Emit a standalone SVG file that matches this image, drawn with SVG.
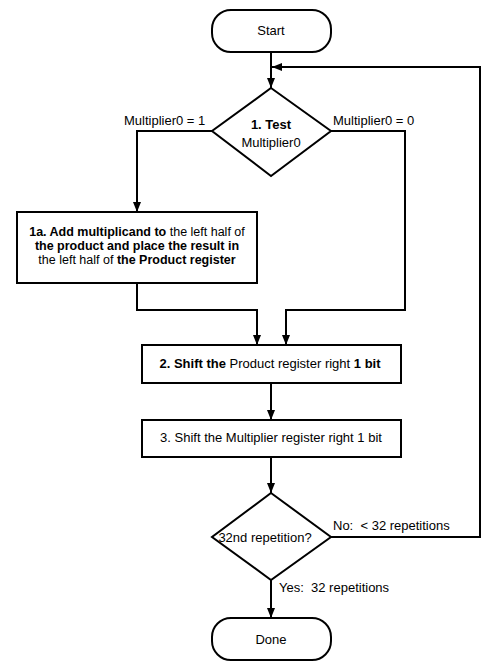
<svg xmlns="http://www.w3.org/2000/svg" width="498" height="661" viewBox="0 0 498 661">
<style>
.s{fill:#fff;stroke:#000;stroke-width:2}
.c{fill:none;stroke:#000;stroke-width:2}
text{font-family:"Liberation Sans",Arial,sans-serif;font-size:13px;fill:#000}
.m{text-anchor:middle}
.b{font-weight:bold}
.p{white-space:pre}
.t{font-size:12.5px}
</style>
<defs>
<marker id="ah" markerUnits="userSpaceOnUse" markerWidth="10" markerHeight="10" viewBox="0 0 10 10" refX="10" refY="5" orient="auto">
<path d="M0,1 L10,5 L0,9 Z" fill="#000"/>
</marker>
</defs>
<g id="connectors">
<path class="c" d="M271,52 V88" marker-end="url(#ah)"/>
<path class="c" d="M212,131 H137 V212" marker-end="url(#ah)"/>
<path class="c" d="M331,131 H405 V310 H286 V345" marker-end="url(#ah)"/>
<path class="c" d="M137,283 V310 H257 V345" marker-end="url(#ah)"/>
<path class="c" d="M271,383 V420" marker-end="url(#ah)"/>
<path class="c" d="M271,457 V493" marker-end="url(#ah)"/>
<path class="c" d="M271,580 V618" marker-end="url(#ah)"/>
<path class="c" d="M331,537 H480 V67 H272" marker-end="url(#ah)"/>
<text x="124" y="125">Multiplier0 = 1</text>
<text x="333" y="125">Multiplier0 = 0</text>
<text class="p" x="333" y="530" xml:space="preserve">No:  &lt; 32 repetitions</text>
<text class="p" x="279" y="592" xml:space="preserve">Yes:  32 repetitions</text>
</g>
<g id="start">
<rect class="s" x="212" y="10" width="119" height="42" rx="19"/>
<text class="m" x="271" y="35">Start</text>
</g>
<g id="test">
<path class="s" d="M271,88 L331,131 L271,176 L212,131 Z"/>
<text class="m b" x="271" y="129">1. Test</text>
<text class="m" x="271" y="147">Multiplier0</text>
</g>
<g id="add">
<rect class="s" x="17" y="212" width="240" height="71"/>
<text class="m t" x="137" y="236"><tspan class="b">1a. Add multiplicand to</tspan> the left half of</text>
<text class="m b t" x="137" y="250">the product and place the result in</text>
<text class="m t" x="137" y="264">the left half of <tspan class="b">the Product register</tspan></text>
</g>
<g id="shift-product">
<rect class="s" x="142" y="345" width="259" height="38"/>
<text class="m" x="270" y="368"><tspan class="b">2. Shift the</tspan> Product register right <tspan class="b">1 bit</tspan></text>
</g>
<g id="shift-multiplier">
<rect class="s" x="142" y="420" width="259" height="37"/>
<text class="m" x="271" y="442">3. Shift the Multiplier register right 1 bit</text>
</g>
<g id="repeat">
<path class="s" d="M271,493 L331,537 L271,580 L212,537 Z"/>
<text class="m" x="265" y="542">32nd repetition?</text>
</g>
<g id="done">
<rect class="s" x="212" y="618" width="119" height="42" rx="19"/>
<text class="m" x="271" y="644">Done</text>
</g>
</svg>
